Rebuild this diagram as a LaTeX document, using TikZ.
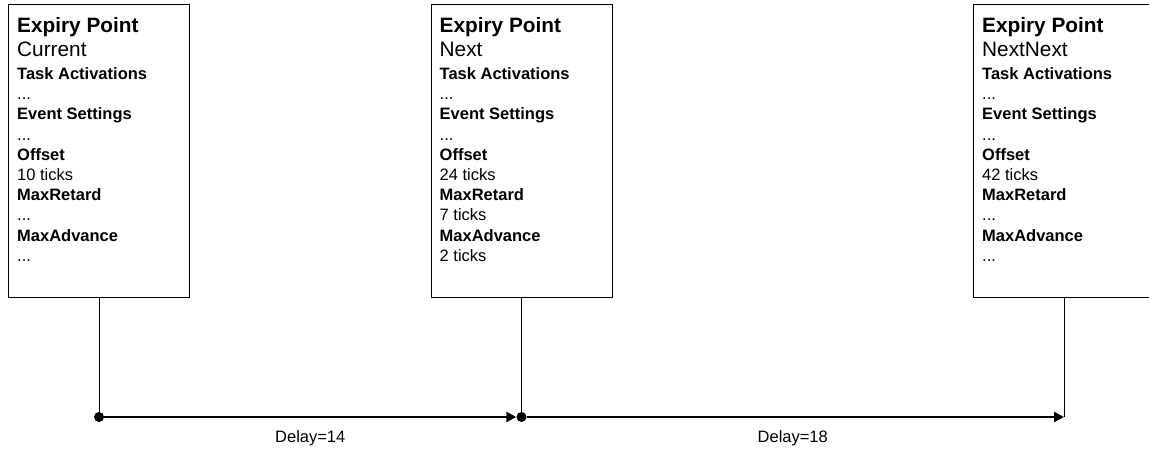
\documentclass[tikz,border=0pt]{standalone}
\usepackage{fontspec}
\setmainfont{Liberation Sans}
\usetikzlibrary{arrows.meta}

% one text line of an expiry point card
\newcommand\epHead[1]{\hbox{\fontsize{20.8}{24}\selectfont #1}}
\newcommand\epLabel[1]{\hbox{\fontsize{16.5}{20}\selectfont\bfseries #1}}
\newcommand\epValue[1]{\hbox{\fontsize{16.5}{20}\selectfont #1}}

% card contents: name, task activations, event settings, offset, max retard, max advance
\newcommand\epCard[6]{%
  \vtop{\lineskiplimit=-\maxdimen \lineskip=0pt
    \baselineskip=24pt
    \epHead{\bfseries Expiry Point}
    \epHead{#1}
    \baselineskip=22.5pt
    \epLabel{Task Activations}
    \baselineskip=20.2pt
    \epValue{#2}
    \epLabel{Event Settings}
    \epValue{#3}
    \epLabel{Offset}
    \epValue{#4}
    \epLabel{MaxRetard}
    \epValue{#5}
    \epLabel{MaxAdvance}
    \epValue{#6}}}

\begin{document}
\begin{tikzpicture}[x=1pt,y=-1pt,
  epbox/.style={draw=black, line width=1pt, minimum width=181pt,
                minimum height=293pt, inner sep=0pt, anchor=north west},
  eptxt/.style={anchor=base west, inner sep=0pt},
  link/.style={line width=0.9pt},
  dotnode/.style={circle, fill=black, inner sep=0pt, minimum size=10pt},
  timeline/.style={line width=2.2pt, -{Triangle[length=10pt,width=10pt]}},
  delaylbl/.style={font=\fontsize{16.5}{20}\selectfont, anchor=base, inner sep=0pt}]
\clip (0,0) rectangle (1149,449);
\fill[white] (0,0) rectangle (1149,449);

% expiry point cards
\node[epbox] (box1) at (8,4) {};
\node[eptxt] (txt1) at (17,33) {\epCard{Current}{...}{...}{10 ticks}{...}{...}};

\node[epbox] (box2) at (430.5,4) {};
\node[eptxt] (txt2) at (439.5,33) {\epCard{Next}{...}{...}{24 ticks}{7 ticks}{2 ticks}};

\node[epbox] (box3) at (973,4) {};
\node[eptxt] (txt3) at (982,33) {\epCard{NextNext}{...}{...}{42 ticks}{...}{...}};

% time line
\node[dotnode] (d1) at (box1.south |- 0,417) {};
\node[dotnode] (d2) at (box2.south |- 0,417) {};
\coordinate (e3) at (box3.south |- 0,417);

\draw[link] (box1.south) -- (d1.center);
\draw[link] (box2.south) -- (d2.center);
\draw[link] (box3.south) -- (e3);

\draw[timeline] (d1) -- (d2);
\draw[timeline] (d2) -- (e3);

\path (d1.center) -- (d2.center) node[midway, delaylbl, yshift=-25pt] (lbl1) {Delay=14};
\path (d2.center) -- (e3) node[midway, delaylbl, yshift=-25pt] (lbl2) {Delay=18};
\end{tikzpicture}
\end{document}
